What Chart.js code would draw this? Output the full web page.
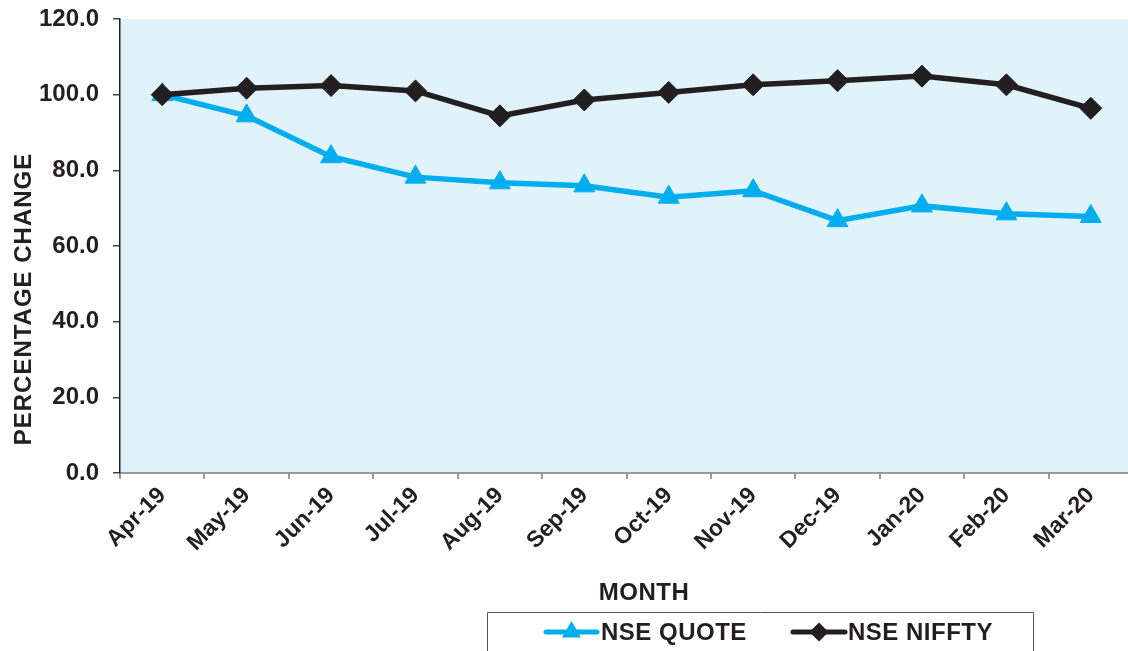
<!DOCTYPE html>
<html>
<head>
<meta charset="utf-8">
<script src="https://cdn.jsdelivr.net/npm/chart.js@4/dist/chart.umd.min.js"></script>
<style>
html,body{margin:0;padding:0;background:#fff;overflow:hidden;width:1128px;height:651px;}
canvas{display:block;}
</style>
</head>
<body>
<canvas id="c" width="1146" height="651"></canvas>
<script>
const months = ["Apr-19","May-19","Jun-19","Jul-19","Aug-19","Sep-19","Oct-19","Nov-19","Dec-19","Jan-20","Feb-20","Mar-20"];
const nseQuote = [100, 94.4, 83.6, 78.2, 76.7, 75.9, 72.9, 74.6, 66.7, 70.6, 68.5, 67.8];
const nseNiffty = [100, 101.7, 102.4, 101.0, 94.4, 98.6, 100.6, 102.6, 103.7, 104.9, 102.6, 96.4];
const yTicks = [0, 20, 40, 60, 80, 100, 120];
const seriesNames = ["NSE QUOTE", "NSE NIFFTY"];
const yTitle = "PERCENTAGE CHANGE";
const xTitle = "MONTH";

const FONT = "'Liberation Sans', Arial, sans-serif";
const DARK = "#231F20";
const BLUE = "#00AEEF";

const extras = {
  id: 'extras',
  beforeDraw(chart) {
    const {ctx, chartArea: a} = chart;
    ctx.save();
    ctx.fillStyle = '#E0F2FA';
    ctx.fillRect(a.left, a.top, a.right - a.left, a.bottom - a.top);
    ctx.restore();
  },
  afterDraw(chart) {
    const {ctx} = chart;
    ctx.save();
    ctx.fillStyle = DARK;
    ctx.font = "bold 24px " + FONT;
    ctx.textAlign = 'center';
    ctx.textBaseline = 'middle';
    ctx.letterSpacing = '1px';
    ctx.translate(24, 299);
    ctx.rotate(-Math.PI / 2);
    ctx.fillText(yTitle, 0, 0);
    ctx.restore();

    ctx.save();
    ctx.fillStyle = DARK;
    ctx.font = "bold 24px " + FONT;
    ctx.textAlign = 'center';
    ctx.textBaseline = 'middle';
    ctx.letterSpacing = '0.5px';
    ctx.fillText(xTitle, 644, 593);

    ctx.strokeStyle = '#555';
    ctx.lineWidth = 1;
    ctx.beginPath();
    ctx.moveTo(487.5, 660);
    ctx.lineTo(487.5, 612.5);
    ctx.lineTo(1033.5, 612.5);
    ctx.lineTo(1033.5, 660);
    ctx.stroke();

    const items = [
      {x0: 546, x1: 597, tx: 601, color: BLUE, style: 'triangle', r: 6, text: seriesNames[0]},
      {x0: 793, x1: 845, tx: 848, color: DARK, style: 'rectRot', r: 6, text: seriesNames[1]}
    ];
    const ly = 632;
    items.forEach(it => {
      ctx.strokeStyle = it.color;
      ctx.lineWidth = 5;
      ctx.lineCap = 'round';
      ctx.beginPath();
      ctx.moveTo(it.x0, ly);
      ctx.lineTo(it.x1, ly);
      ctx.stroke();
      ctx.fillStyle = it.color;
      Chart.helpers.drawPoint(ctx, {pointStyle: it.style, radius: it.r, borderWidth: 1, rotation: 0}, (it.x0 + it.x1) / 2, ly);
      ctx.fill();
      ctx.fillStyle = DARK;
      ctx.textAlign = 'left';
      ctx.fillText(it.text, it.tx, ly + 1);
    });
    ctx.restore();
  }
};

new Chart(document.getElementById('c'), {
  type: 'line',
  data: {
    labels: months,
    datasets: [
      {
        label: seriesNames[0],
        data: nseQuote,
        borderColor: BLUE,
        backgroundColor: BLUE,
        borderWidth: 5.5,
        pointStyle: 'triangle',
        pointRadius: 12,
        pointBorderWidth: 1,
        pointBackgroundColor: BLUE,
        pointBorderColor: BLUE,
        tension: 0,
        order: 2
      },
      {
        label: seriesNames[1],
        data: nseNiffty,
        borderColor: DARK,
        backgroundColor: DARK,
        borderWidth: 5.5,
        pointStyle: 'rectRot',
        pointRadius: 11,
        pointBorderWidth: 1,
        pointBackgroundColor: DARK,
        pointBorderColor: DARK,
        tension: 0,
        order: 1
      }
    ]
  },
  options: {
    responsive: false,
    animation: false,
    layout: {padding: {top: 19, right: 0, left: 0, bottom: 0}},
    plugins: {legend: {display: false}, tooltip: {enabled: false}},
    scales: {
      x: {
        type: 'category',
        offset: true,
        afterFit(scale) { scale.height = 651 - 473; scale.paddingLeft = 0; scale.paddingRight = 0; },
        grid: {
          display: true,
          offset: true,
          drawOnChartArea: false,
          drawTicks: true,
          tickLength: 6,
          color: '#9a9a9a',
          lineWidth: 2
        },
        border: {display: true, color: '#9a9a9a', width: 2},
        ticks: {
          color: DARK,
          font: {family: FONT, size: 23, weight: 'bold'},
          minRotation: 45,
          maxRotation: 45,
          autoSkip: false,
          padding: 3
        }
      },
      y: {
        min: 0,
        max: 120,
        afterFit(scale) { scale.width = 120; scale.paddingTop = 0; scale.paddingBottom = 0; },
        afterBuildTicks(scale) { scale.ticks = yTicks.map(v => ({value: v})); },
        grid: {
          display: true,
          drawOnChartArea: false,
          drawTicks: true,
          tickLength: 7,
          color: '#444',
          lineWidth: 1.5
        },
        border: {display: true, color: DARK, width: 1.5},
        ticks: {
          color: DARK,
          font: {family: FONT, size: 24, weight: 'bold'},
          padding: 14,
          callback: v => Number(v).toFixed(1)
        }
      }
    }
  },
  plugins: [extras]
});
</script>
</body>
</html>
